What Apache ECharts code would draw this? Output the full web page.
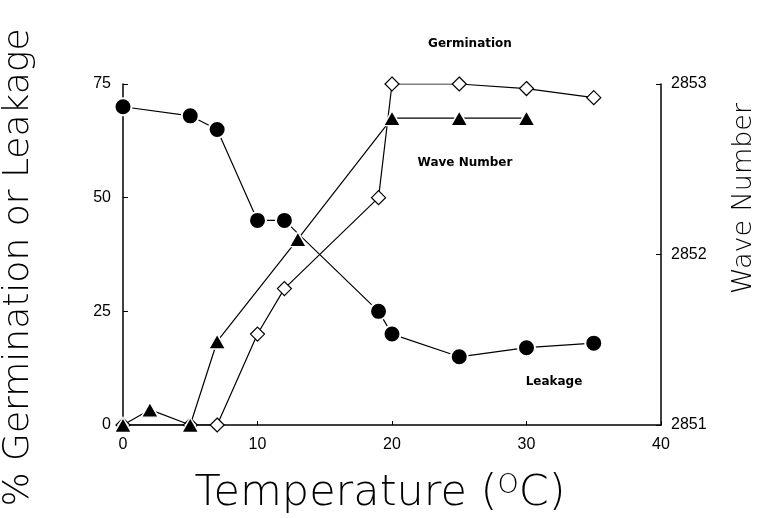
<!DOCTYPE html>
<html>
<head>
<meta charset="utf-8">
<script src="https://cdn.jsdelivr.net/npm/echarts@6/dist/echarts.min.js"></script>
<style>html,body{margin:0;padding:0;background:#fff}#c{width:765px;height:518px}</style>
</head>
<body>
<div id="c"></div>
<script>
// Data
const leakageX = [0, 5, 7, 10, 12, 19, 20, 25, 30, 35];
const leakageY = [70, 68, 65, 45, 45, 25, 20, 15, 17, 18];
const germX = [0, 5, 7, 10, 12, 19, 20, 25, 30, 35];
const germY = [0, 0, 0, 20, 30, 50, 75, 75, 74, 72];
const waveX = [0, 2, 5, 7, 13, 20, 25, 30];
const waveY = [2851, 2851.09, 2851, 2851.49, 2852.09, 2852.8, 2852.8, 2852.8];
const xTicks = [0, 10, 20, 30, 40];
const leftTicks = [0, 25, 50, 75];
const rightTicks = [2851, 2852, 2853];

const pair = (xs, ys) => xs.map((x, i) => [x, ys[i]]);
const FONT = 'Liberation Sans';
const TFONT = 'DejaVu Sans';

const chart = echarts.init(document.getElementById('c'), null, {renderer: 'canvas'});
const axisLine = {show: true, lineStyle: {color: '#000', width: 1.5}};
chart.setOption({
  animation: false,
  backgroundColor: '#fff',
  grid: {left: 123, right: 104, top: 84, bottom: 93, containLabel: false, outerBoundsMode: 'none'},
  xAxis: {
    type: 'value', min: 0, max: 40, interval: 10,
    axisLine: axisLine,
    axisTick: {show: true, inside: true, length: 4, lineStyle: {color: '#000'}},
    splitLine: {show: false},
    axisLabel: {color: '#000', fontFamily: FONT, fontSize: 16, margin: 12,
      formatter: v => xTicks.includes(v) ? String(v) : ''},
    name: '{a|Temperature (}{s|O}{a|C)}',
    nameLocation: 'middle', nameGap: 47,
    nameTextStyle: {padding: [0, 24, 0, 0], rich: {
      a: {fontFamily: TFONT, fontWeight: 200, fontSize: 43, color: '#000'},
      s: {fontFamily: TFONT, fontWeight: 200, fontSize: 27, color: '#000', verticalAlign: 'top', padding: [0, 0, 16, 0]}
    }}
  },
  yAxis: [{
    type: 'value', min: 0, max: 75, interval: 25,
    axisLine: axisLine,
    axisTick: {show: true, inside: true, length: 5, lineStyle: {color: '#000'}},
    splitLine: {show: false},
    axisLabel: {color: '#000', fontFamily: FONT, fontSize: 16, margin: 12,
      formatter: v => leftTicks.includes(v) ? String(v) : ''},
    name: '% Germination or Leakage', nameLocation: 'middle', nameGap: 86,
    nameTextStyle: {fontFamily: TFONT, fontWeight: 200, fontSize: 36, color: '#000', padding: [0, 26, 0, 0]}
  }, {
    type: 'value', min: 2851, max: 2853, interval: 1, position: 'right',
    axisLine: axisLine,
    axisTick: {show: true, inside: true, length: 5, lineStyle: {color: '#000'}},
    splitLine: {show: false},
    axisLabel: {color: '#000', fontFamily: FONT, fontSize: 16, margin: 10,
      formatter: v => rightTicks.includes(v) ? String(v) : ''},
    name: 'Wave Number', nameLocation: 'middle', nameGap: 69, nameRotate: 90,
    nameTextStyle: {fontFamily: TFONT, fontWeight: 200, fontSize: 27, color: '#000', padding: [0, 0, 0, 112]}
  }],
  series: [{
    name: 'Leakage', type: 'line', yAxisIndex: 0, data: pair(leakageX, leakageY),
    symbol: 'circle', symbolSize: 17,
    lineStyle: {color: '#000', width: 1.2},
    itemStyle: {color: '#000', borderColor: '#fff', borderWidth: 2}, z: 3
  }, {
    name: 'Germination', type: 'line', yAxisIndex: 0, data: pair(germX, germY),
    symbol: 'diamond', symbolSize: [14, 14],
    lineStyle: {color: '#000', width: 1.2},
    itemStyle: {color: '#fff', borderColor: '#000', borderWidth: 1.2}, z: 4
  }, {
    name: 'Wave Number', type: 'line', yAxisIndex: 1, data: pair(waveX, waveY),
    symbol: 'triangle', symbolSize: [17, 15],
    lineStyle: {color: '#000', width: 1.2},
    itemStyle: {color: '#000', borderColor: '#fff', borderWidth: 1.5}, z: 5
  }],
  graphic: [
    {type: 'text', x: 470, y: 44, style: {text: 'Germination', font: 'bold 12px ' + TFONT, fill: '#000', align: 'center', verticalAlign: 'middle'}},
    {type: 'text', x: 465, y: 163, style: {text: 'Wave Number', font: 'bold 12px ' + TFONT, fill: '#000', align: 'center', verticalAlign: 'middle'}},
    {type: 'text', x: 554, y: 382, style: {text: 'Leakage', font: 'bold 12px ' + TFONT, fill: '#000', align: 'center', verticalAlign: 'middle'}}
  ]
});
</script>
</body>
</html>
